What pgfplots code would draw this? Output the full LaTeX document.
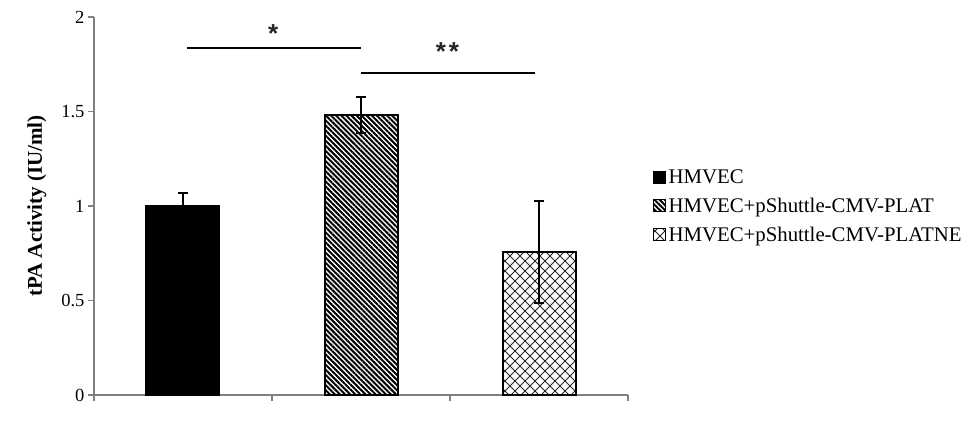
\documentclass[border=0pt]{standalone}
\usepackage{pgfplots}
\pgfplotsset{compat=1.18}
\usepackage{fontspec}
\setmainfont{Liberation Serif}
\setsansfont{Liberation Sans}
\usetikzlibrary{patterns,patterns.meta}

\pgfdeclarepattern{
  name=diamondx,
  type=uncolored,
  bottom left={\pgfpoint{-0.1pt}{-0.1pt}},
  top right={\pgfpoint{10.1pt}{10.1pt}},
  tile size={\pgfpoint{10pt}{10pt}},
  code={
    \pgfsetlinewidth{0.9pt}
    \pgfpathmoveto{\pgfpoint{-1pt}{-1pt}}\pgfpathlineto{\pgfpoint{11pt}{11pt}}
    \pgfpathmoveto{\pgfpoint{-1pt}{11pt}}\pgfpathlineto{\pgfpoint{11pt}{-1pt}}
    \pgfusepath{stroke}
  }
}

\pgfplotsset{
  mybar/.style={
    ybar, bar width=73pt, bar shift=0pt, draw=black, line width=2pt,
    error bars/.cd, y dir=both, y explicit,
      error bar style={line width=1.8pt, black, solid},
      error mark options={rotate=90, mark size=5pt, line width=1.8pt, black},
    /pgfplots/.cd,
    legend image code/.code={\draw[##1, line width=1pt] (0pt,-6pt) rectangle (12pt,6pt);}
  }
}

\begin{document}
\begin{tikzpicture}
\useasboundingbox (-94pt,-31pt) rectangle (884pt,395pt);
\begin{axis}[
  scale only axis,
  width=534pt, height=378pt,
  xmin=-0.5, xmax=2.5, ymin=0, ymax=2,
  axis x line*=bottom, axis y line*=left,
  axis line style={draw=gray, line width=1.5pt},
  tick style={draw=gray, line width=1.5pt},
  tick align=outside,
  major tick length=6pt,
  xtick={-0.5,0.5,1.5,2.5}, xticklabels={},
  ytick={0,0.5,1,1.5,2},
  yticklabels={0,0.5,1,1.5,2},
  /pgf/number format/assume math mode=true,
  tick label style={font=\fontsize{18.5}{21}\selectfont},
  ylabel={\textbf{tPA Activity (IU/ml)}},
  ylabel style={at={(axis description cs:-0.107,0.5)}, anchor=center, font=\fontsize{21}{24}\selectfont},
  clip=false,
  legend style={
    at={(axis description cs:1.04,0.5)}, anchor=west,
    draw=none, fill=none,
    font=\fontsize{20.8}{24}\selectfont,
    row sep=9pt,
    /tikz/every odd column/.append style={column sep=1pt},
  },
  legend cell align=left,
]
\addplot[mybar, fill=black] coordinates {(0,1.0) +- (0,0.07)};
\addlegendentry{HMVEC}
\addplot[mybar, pattern={Lines[angle=-45,distance=3.6pt,line width=2pt]}, pattern color=black] coordinates {(1,1.48) +- (0,0.095)};
\addlegendentry{HMVEC+pShuttle-CMV-PLAT}
\addplot[mybar, pattern=diamondx, pattern color=black!85] coordinates {(2,0.755) +- (0,0.27)};
\addlegendentry{HMVEC+pShuttle-CMV-PLATNE}

\addplot[sharp plot, black, line width=2pt, forget plot, mark=none] coordinates {(0.02,1.836) (1.0,1.836)};
\addplot[sharp plot, black, line width=2pt, forget plot, mark=none] coordinates {(1.0,1.704) (1.98,1.704)};
\node[font=\sffamily\bfseries\fontsize{26}{30}\selectfont, text=black!85] at (axis cs:0.506,1.915) {*};
\node[font=\sffamily\bfseries\fontsize{26}{30}\selectfont, text=black!85] at (axis cs:1.486,1.815) {*\hspace{3pt}*};
\end{axis}
\end{tikzpicture}
\end{document}
